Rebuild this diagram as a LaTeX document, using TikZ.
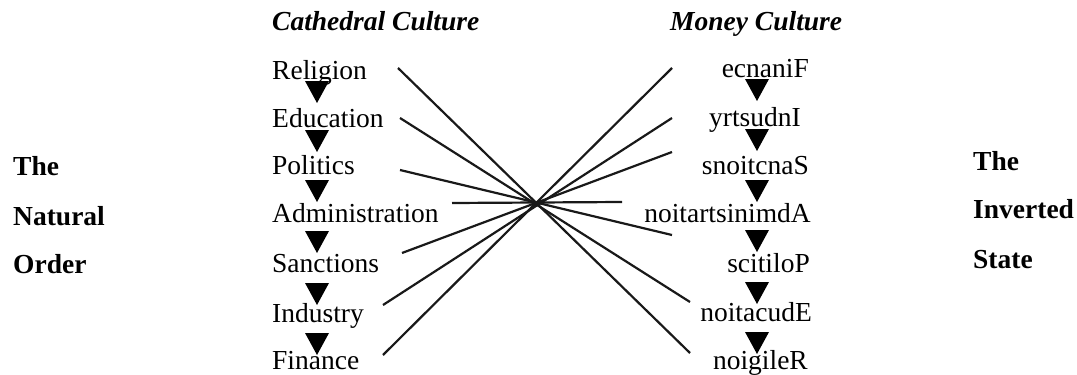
\documentclass[tikz,border=0pt]{standalone}
\usepackage{fontspec}
\setmainfont{Liberation Serif}
\begin{document}
\begin{tikzpicture}[x=1pt,y=-1pt,
  word/.style={inner sep=0pt,font=\fontsize{27.5}{33}\selectfont},
  lword/.style={word,anchor=base west},
  rword/.style={word,anchor=base east},
  title/.style={word,anchor=base west,font=\fontsize{27.5}{33}\selectfont\bfseries\itshape},
  side/.style={word,anchor=base west,font=\fontsize{27.5}{33}\selectfont\bfseries},
  link/.style={line width=2.2pt,black!90},
  tri/.style={fill=black}]
\useasboundingbox (0,0) rectangle (1077,375);
\newcommand\downtri[2]{\fill[tri] (#1-12,#2) -- (#1+12,#2) -- (#1,#2+22) -- cycle;}
% titles
\node[title] (tl) at (272,30) {Cathedral Culture};
\node[title] (tr) at (670,30) {Money Culture};
% side labels
\node[side] (l1) at (13,175) {The};
\node[side] (l2) at (13,225) {Natural};
\node[side] (l3) at (13,273) {Order};
\node[side] (r1) at (973,170) {The};
\node[side] (r2) at (973,218) {Inverted};
\node[side] (r3) at (973,268) {State};
% left column
\node[lword] (a1) at (272,79) {Religion};
\node[lword] (a2) at (272,127) {Education};
\node[lword] (a3) at (272,174) {Politics};
\node[lword] (a4) at (272,222) {Administration};
\node[lword] (a5) at (272,272) {Sanctions};
\node[lword] (a6) at (272,322) {Industry};
\node[lword] (a7) at (272,369) {Finance};
% right column
\node[rword] (b1) at (809,77) {ecnaniF};
\node[rword] (b2) at (801,126) {yrtsudnI};
\node[rword] (b3) at (809,174) {snoitcnaS};
\node[rword] (b4) at (811,222) {noitartsinimdA};
\node[rword] (b5) at (810,272) {scitiloP};
\node[rword] (b6) at (812,321) {noitacudE};
\node[rword] (b7) at (808,369) {noigileR};
% triangles
\foreach \y in {81,130,180,231,283,333} {\downtri{317}{\y}}
\foreach \y in {79,129,180,230,282,332} {\downtri{757}{\y}}
% line ends
\coordinate (p1) at (398,68);
\coordinate (p2) at (400,118);
\coordinate (p3) at (400,170);
\coordinate (p4) at (452,203);
\coordinate (p5) at (402,253);
\coordinate (p6) at (383,305);
\coordinate (p7) at (383,355);
\coordinate (q1) at (672,68);
\coordinate (q2) at (672,118);
\coordinate (q3) at (672,152);
\coordinate (q4) at (622,202);
\coordinate (q5) at (672,235);
\coordinate (q6) at (690,302);
\coordinate (q7) at (690,353);
\draw[link] (p1) -- (q7);
\draw[link] (p2) -- (q6);
\draw[link] (p3) -- (q5);
\draw[link] (p4) -- (q4);
\draw[link] (p5) -- (q3);
\draw[link] (p6) -- (q2);
\draw[link] (p7) -- (q1);
\end{tikzpicture}
\end{document}
